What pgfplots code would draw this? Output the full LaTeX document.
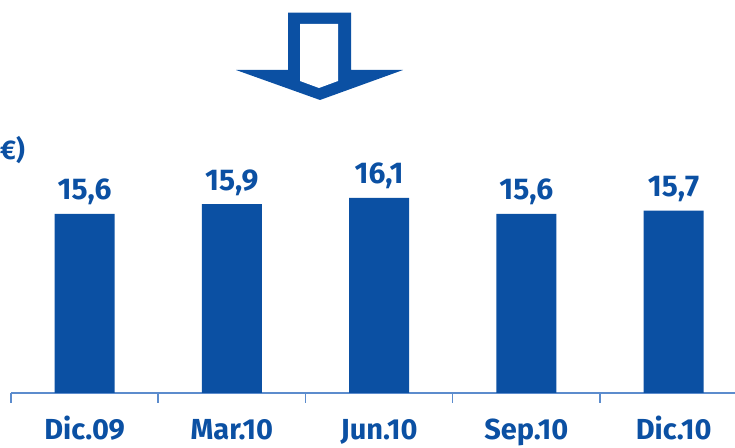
\documentclass[border=0pt]{standalone}
\usepackage{fontspec}
\setmainfont{Fira Sans}
\usepackage{pgfplots}
\pgfplotsset{compat=1.18}
\definecolor{barblue}{RGB}{11,80,163}
\definecolor{axisblue}{RGB}{92,140,205}
\begin{document}
\begin{tikzpicture}[x=1bp,y=1bp]
\path[use as bounding box] (0,0) rectangle (735,448);
% decorative arrow
\fill[barblue] (288,435.3) -- (351,435.3) -- (351,378) -- (403,378) -- (320,348) -- (236,378) -- (288,378) -- cycle;
\fill[white] (300,424) -- (338,424) -- (338,367) -- (319,360) -- (300,367) -- cycle;
\node[anchor=base east, text=barblue, font=\bfseries\fontsize{27bp}{30bp}\selectfont, inner sep=0pt] at (25,288) {€)};
\begin{axis}[
  at={(11bp,55bp)}, anchor=south west,
  scale only axis, width=724bp, height=224bp,
  xmin=-0.5, xmax=4.417, ymin=10, ymax=17,
  axis x line=bottom, axis y line=none,
  axis line style={-, draw=axisblue, line width=1.5bp},
  xtick={-0.5,0.5,1.5,2.5,3.5}, xticklabels={},
  major tick length=10bp, tick align=outside,
  tick style={draw=axisblue, line width=1.5bp},
  ytick=\empty,
  clip=false,
  ybar, bar width=60bp,
  point meta=explicit symbolic,
  nodes near coords,
  nodes near coords style={anchor=base, yshift=14bp, inner sep=0pt, text=barblue, font=\bfseries\fontsize{30bp}{32bp}\selectfont},
]
\addplot[fill=barblue, draw=none, bar shift=0pt] coordinates {
  (0,15.6) [15,6]
  (1,15.9) [15,9]
  (2,16.1) [16,1]
  (3,15.6) [15,6]
  (4,15.7) [15,7]
};
\foreach \i/\lab in {0/Dic.09,1/Mar.10,2/Jun.10,3/Sep.10,4/Dic.10}{
  \edef\temp{\noexpand\node[anchor=base, inner sep=0pt, text=barblue, font=\noexpand\bfseries\noexpand\fontsize{29bp}{31bp}\noexpand\selectfont] at (axis cs:\i,10) [yshift=-47bp] {\lab};}
  \temp
}
\end{axis}
\end{tikzpicture}
\end{document}
